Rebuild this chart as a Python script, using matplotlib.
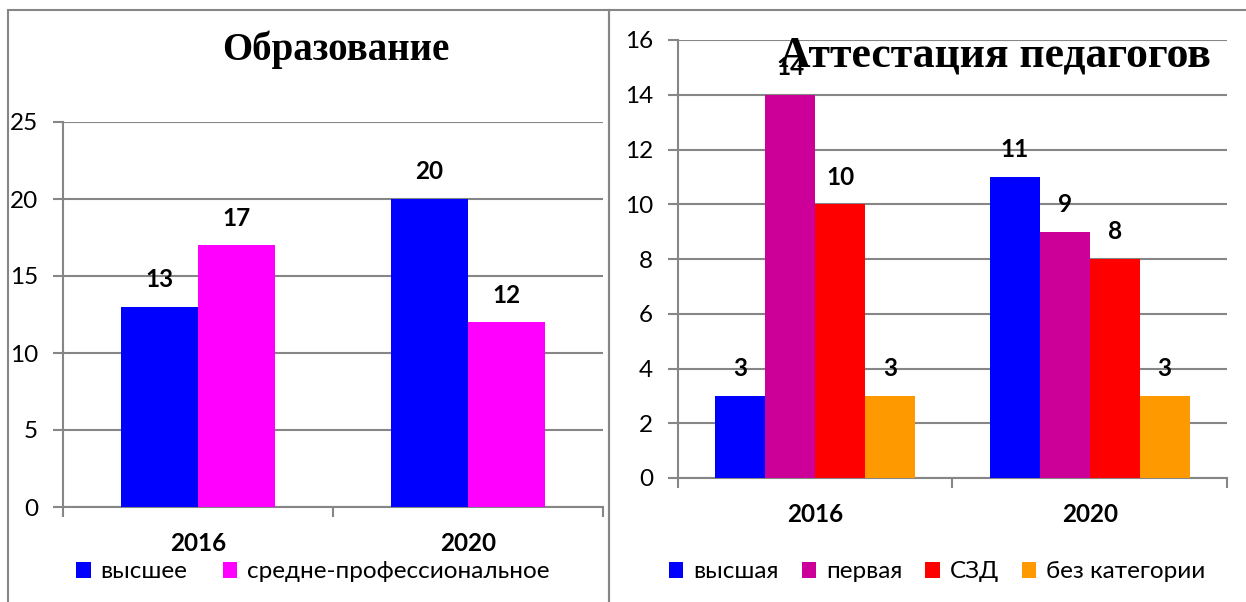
import matplotlib
matplotlib.use("Agg")
import matplotlib.pyplot as plt
from matplotlib.patches import Rectangle
import numpy as np

# data
years = ["2016", "2020"]

edu_labels = ["высшее", "средне-профессиональное"]
edu_higher = [13, 20]
edu_college = [17, 12]
edu_colors = ["#0000FF", "#FF00FF"]

att_labels = ["высшая", "первая", "СЗД", "без категории"]
att_highest = [3, 11]
att_first = [14, 9]
att_szd = [10, 8]
att_none = [3, 3]
att_colors = ["#0000FF", "#CC0099", "#FF0000", "#FF9900"]

W, H = 1246, 602
GRID = "#868686"
SANS = "Lato"
SERIF = "Liberation Serif"
FS = 17.5

fig = plt.figure(figsize=(W / 100, H / 100), dpi=100)


def px_axes(x0, y0, x1, y1):
    # pixel box (top-left origin) -> figure fraction
    return fig.add_axes([x0 / W, (H - y1) / H, (x1 - x0) / W, (y1 - y0) / H])


def style_axes(ax, ymax, ystep):
    ax.set_xlim(-0.5, 1.5)
    ax.set_ylim(0, ymax)
    ax.set_yticks(np.arange(0, ymax + 0.1, ystep))
    ax.yaxis.grid(True, color=GRID, linewidth=1.5)
    ax.set_axisbelow(True)
    for s in ["top", "right"]:
        ax.spines[s].set_visible(False)
    for s in ["left", "bottom"]:
        ax.spines[s].set_color(GRID)
        ax.spines[s].set_linewidth(1.5)
    ax.tick_params(axis="y", length=7, width=1.5, color=GRID, pad=11,
                   labelsize=FS)
    ax.set_xticks([-0.5, 0.5, 1.5])
    ax.set_xticklabels([])
    ax.set_xticks([0, 1], minor=True)
    ax.set_xticklabels(years, minor=True, fontweight="bold", fontsize=FS,
                       family=SANS)
    ax.tick_params(axis="x", which="major", length=7, width=1.5, color=GRID)
    ax.tick_params(axis="x", which="minor", length=0, pad=18)
    for t in ax.get_yticklabels():
        t.set_family(SANS)


def bar_group(ax, series, colors, width):
    x = np.arange(len(years))
    n = len(series)
    handles = []
    for i, (vals, c) in enumerate(zip(series, colors)):
        off = (i - (n - 1) / 2) * width
        b = ax.bar(x + off, vals, width, color=c, zorder=3)
        handles.append(b)
        for xi, v in zip(x + off, vals):
            ax.annotate(str(v), (xi, v), xytext=(0, 19.5),
                        textcoords="offset points", ha="center", va="center",
                        fontsize=FS, fontweight="bold", family=SANS)
    return handles


# left chart: education
ax1 = px_axes(63, 122, 603, 507)
style_axes(ax1, 25, 5)
h1 = bar_group(ax1, [edu_higher, edu_college], edu_colors, 0.285)
fig.text(336 / W, 1 - 50 / H, "Образование", ha="center", va="center",
         fontsize=28, fontweight="bold", family=SERIF)
fig.legend(h1, edu_labels, loc="center", bbox_to_anchor=(313 / W, 1 - 572 / H),
           ncol=2, frameon=False, handlelength=0.6, handleheight=0.6,
           handletextpad=0.4, columnspacing=1.45,
           prop={"family": SANS, "size": FS})

# right chart: teacher certification
ax2 = px_axes(678, 40, 1227, 478)
style_axes(ax2, 16, 2)
h2 = bar_group(ax2, [att_highest, att_first, att_szd, att_none], att_colors, 0.182)
fig.text(995 / W, 1 - 55 / H, "Аттестация педагогов", ha="center",
         va="center", fontsize=31.5, fontweight="bold", family=SERIF)
fig.legend(h2, att_labels, loc="center", bbox_to_anchor=(937 / W, 1 - 572 / H),
           ncol=4, frameon=False, handlelength=0.6, handleheight=0.6,
           handletextpad=0.4, columnspacing=0.95,
           prop={"family": SANS, "size": FS})

# panel frames
for x0, x1 in [(8, 609), (609, 1260)]:
    fig.patches.append(Rectangle((x0 / W, -0.1), (x1 - x0) / W, 1.1 - 10 / H,
                                 transform=fig.transFigure, fill=False,
                                 edgecolor=GRID, linewidth=1.5))

fig.savefig("out.png", dpi=100)
